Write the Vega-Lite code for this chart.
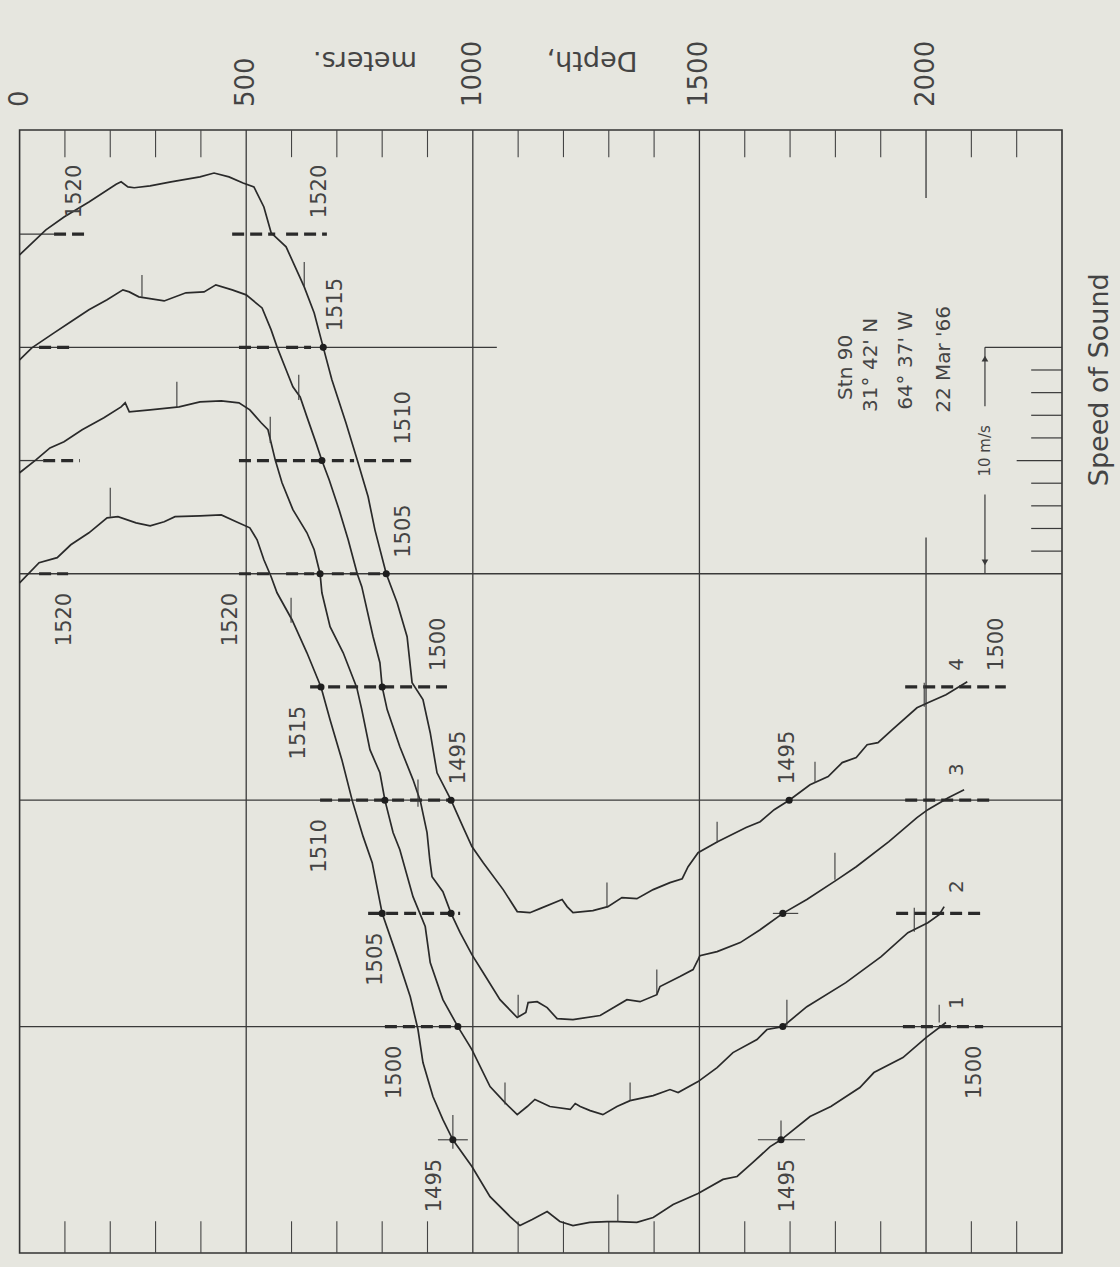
{
"$schema": "https://vega.github.io/schema/vega-lite/v6.json",
"width": 1042.4,
"height": 1123,
"autosize": {"type": "none"},
"padding": {"left": 19.6, "top": 130, "right": 58, "bottom": 14},
"background": "#e6e6df",
"config": {"view": {"stroke": "#333333", "strokeWidth": 1.6}, "font": "DejaVu Sans"},
"datasets": {
"profiles": [
{"c":4,"depth":0,"speed":1519.08},{"c":4,"depth":58,"speed":1520.19},{"c":4,"depth":98,"speed":1520.76},{"c":4,"depth":153,"speed":1521.42},{"c":4,"depth":213,"speed":1522.2},{"c":4,"depth":224,"speed":1522.31},{"c":4,"depth":239,"speed":1522.09},{"c":4,"depth":253,"speed":1522.05},{"c":4,"depth":288,"speed":1522.13},{"c":4,"depth":334,"speed":1522.31},{"c":4,"depth":398,"speed":1522.53},{"c":4,"depth":429,"speed":1522.7},{"c":4,"depth":462,"speed":1522.53},{"c":4,"depth":493,"speed":1522.26},{"c":4,"depth":517,"speed":1522.09},{"c":4,"depth":539,"speed":1521.2},{"c":4,"depth":555,"speed":1520.06},{"c":4,"depth":588,"speed":1519.44},{"c":4,"depth":628,"speed":1517.67},{"c":4,"depth":650,"speed":1516.52},{"c":4,"depth":670,"speed":1515.0},{"c":4,"depth":689,"speed":1513.57},{"c":4,"depth":720,"speed":1511.67},{"c":4,"depth":745,"speed":1510.03},{"c":4,"depth":769,"speed":1508.4},{"c":4,"depth":784,"speed":1506.94},{"c":4,"depth":809,"speed":1505.0},{"c":4,"depth":833,"speed":1503.72},{"c":4,"depth":855,"speed":1502.22},{"c":4,"depth":866,"speed":1500.19},{"c":4,"depth":890,"speed":1499.44},{"c":4,"depth":906,"speed":1497.98},{"c":4,"depth":921,"speed":1496.21},{"c":4,"depth":952,"speed":1495.0},{"c":4,"depth":978,"speed":1493.83},{"c":4,"depth":998,"speed":1492.95},{"c":4,"depth":1023,"speed":1492.24},{"c":4,"depth":1067,"speed":1491.05},{"c":4,"depth":1098,"speed":1490.08},{"c":4,"depth":1126,"speed":1490.03},{"c":4,"depth":1148,"speed":1490.21},{"c":4,"depth":1197,"speed":1490.61},{"c":4,"depth":1208,"speed":1490.3},{"c":4,"depth":1221,"speed":1490.03},{"c":4,"depth":1265,"speed":1490.12},{"c":4,"depth":1298,"speed":1490.3},{"c":4,"depth":1329,"speed":1490.7},{"c":4,"depth":1362,"speed":1490.65},{"c":4,"depth":1398,"speed":1491.05},{"c":4,"depth":1435,"speed":1491.36},{"c":4,"depth":1462,"speed":1491.53},{"c":4,"depth":1475,"speed":1492.06},{"c":4,"depth":1497,"speed":1492.68},{"c":4,"depth":1541,"speed":1493.17},{"c":4,"depth":1603,"speed":1493.79},{"c":4,"depth":1634,"speed":1494.05},{"c":4,"depth":1665,"speed":1494.58},{"c":4,"depth":1698,"speed":1495.0},{"c":4,"depth":1744,"speed":1495.68},{"c":4,"depth":1784,"speed":1496.04},{"c":4,"depth":1815,"speed":1496.66},{"c":4,"depth":1846,"speed":1496.88},{"c":4,"depth":1870,"speed":1497.45},{"c":4,"depth":1894,"speed":1497.54},{"c":4,"depth":1925,"speed":1498.11},{"c":4,"depth":1980,"speed":1499.08},{"c":4,"depth":2004,"speed":1499.3},{"c":4,"depth":2044,"speed":1499.66},{"c":4,"depth":2091,"speed":1500.23},
{"c":3,"depth":0,"speed":1519.45},{"c":3,"depth":27,"speed":1519.98},{"c":3,"depth":76,"speed":1520.64},{"c":3,"depth":113,"speed":1521.13},{"c":3,"depth":153,"speed":1521.66},{"c":3,"depth":193,"speed":1522.1},{"c":3,"depth":228,"speed":1522.54},{"c":3,"depth":242,"speed":1522.45},{"c":3,"depth":263,"speed":1522.23},{"c":3,"depth":319,"speed":1522.05},{"c":3,"depth":367,"speed":1522.41},{"c":3,"depth":407,"speed":1522.45},{"c":3,"depth":433,"speed":1522.76},{"c":3,"depth":469,"speed":1522.54},{"c":3,"depth":500,"speed":1522.32},{"c":3,"depth":535,"speed":1521.74},{"c":3,"depth":555,"speed":1520.77},{"c":3,"depth":568,"speed":1520.02},{"c":3,"depth":588,"speed":1519.01},{"c":3,"depth":603,"speed":1518.26},{"c":3,"depth":619,"speed":1517.81},{"c":3,"depth":634,"speed":1516.93},{"c":3,"depth":654,"speed":1515.78},{"c":3,"depth":667,"speed":1515.0},{"c":3,"depth":683,"speed":1514.15},{"c":3,"depth":705,"speed":1512.83},{"c":3,"depth":725,"speed":1511.5},{"c":3,"depth":745,"speed":1510.0},{"c":3,"depth":755,"speed":1509.43},{"c":3,"depth":780,"speed":1507.22},{"c":3,"depth":795,"speed":1506.07},{"c":3,"depth":800,"speed":1505.0},{"c":3,"depth":811,"speed":1504.0},{"c":3,"depth":839,"speed":1502.36},{"c":3,"depth":868,"speed":1500.91},{"c":3,"depth":884,"speed":1499.98},{"c":3,"depth":899,"speed":1498.57},{"c":3,"depth":905,"speed":1497.37},{"c":3,"depth":910,"speed":1496.62},{"c":3,"depth":934,"speed":1495.96},{"c":3,"depth":952,"speed":1495.0},{"c":3,"depth":972,"speed":1494.15},{"c":3,"depth":998,"speed":1493.18},{"c":3,"depth":1023,"speed":1492.38},{"c":3,"depth":1060,"speed":1491.19},{"c":3,"depth":1098,"speed":1490.4},{"c":3,"depth":1117,"speed":1490.62},{"c":3,"depth":1122,"speed":1491.06},{"c":3,"depth":1142,"speed":1491.1},{"c":3,"depth":1164,"speed":1490.84},{"c":3,"depth":1186,"speed":1490.35},{"c":3,"depth":1221,"speed":1490.31},{"c":3,"depth":1281,"speed":1490.49},{"c":3,"depth":1340,"speed":1491.19},{"c":3,"depth":1369,"speed":1491.1},{"c":3,"depth":1406,"speed":1491.41},{"c":3,"depth":1413,"speed":1491.77},{"c":3,"depth":1457,"speed":1492.21},{"c":3,"depth":1486,"speed":1492.52},{"c":3,"depth":1497,"speed":1492.96},{"c":3,"depth":1501,"speed":1493.13},{"c":3,"depth":1539,"speed":1493.31},{"c":3,"depth":1590,"speed":1493.71},{"c":3,"depth":1634,"speed":1494.28},{"c":3,"depth":1684,"speed":1495.0},{"c":3,"depth":1737,"speed":1495.61},{"c":3,"depth":1804,"speed":1496.49},{"c":3,"depth":1846,"speed":1497.06},{"c":3,"depth":1918,"speed":1498.17},{"c":3,"depth":1980,"speed":1499.23},{"c":3,"depth":2004,"speed":1499.58},{"c":3,"depth":2049,"speed":1500.11},{"c":3,"depth":2084,"speed":1500.46},
{"c":2,"depth":0,"speed":1519.46},{"c":2,"depth":36,"speed":1520.03},{"c":2,"depth":67,"speed":1520.56},{"c":2,"depth":98,"speed":1520.83},{"c":2,"depth":138,"speed":1521.36},{"c":2,"depth":186,"speed":1521.89},{"c":2,"depth":224,"speed":1522.37},{"c":2,"depth":233,"speed":1522.55},{"c":2,"depth":242,"speed":1522.15},{"c":2,"depth":288,"speed":1522.24},{"c":2,"depth":352,"speed":1522.37},{"c":2,"depth":398,"speed":1522.59},{"c":2,"depth":445,"speed":1522.64},{"c":2,"depth":484,"speed":1522.55},{"c":2,"depth":508,"speed":1522.24},{"c":2,"depth":533,"speed":1521.67},{"c":2,"depth":548,"speed":1521.36},{"c":2,"depth":564,"speed":1520.03},{"c":2,"depth":579,"speed":1519.02},{"c":2,"depth":603,"speed":1517.83},{"c":2,"depth":634,"speed":1516.81},{"c":2,"depth":650,"speed":1516.06},{"c":2,"depth":663,"speed":1515.0},{"c":2,"depth":667,"speed":1514.16},{"c":2,"depth":685,"speed":1512.66},{"c":2,"depth":714,"speed":1511.51},{"c":2,"depth":744,"speed":1509.97},{"c":2,"depth":755,"speed":1509.0},{"c":2,"depth":773,"speed":1507.23},{"c":2,"depth":795,"speed":1506.21},{"c":2,"depth":806,"speed":1505.0},{"c":2,"depth":824,"speed":1503.57},{"c":2,"depth":839,"speed":1502.81},{"c":2,"depth":868,"speed":1500.74},{"c":2,"depth":895,"speed":1499.42},{"c":2,"depth":906,"speed":1497.83},{"c":2,"depth":934,"speed":1496.19},{"c":2,"depth":967,"speed":1495.0},{"c":2,"depth":998,"speed":1493.98},{"c":2,"depth":1038,"speed":1492.35},{"c":2,"depth":1071,"speed":1491.64},{"c":2,"depth":1098,"speed":1491.11},{"c":2,"depth":1120,"speed":1491.47},{"c":2,"depth":1137,"speed":1491.78},{"c":2,"depth":1170,"speed":1491.47},{"c":2,"depth":1215,"speed":1491.34},{"c":2,"depth":1226,"speed":1491.6},{"c":2,"depth":1237,"speed":1491.47},{"c":2,"depth":1259,"speed":1491.29},{"c":2,"depth":1287,"speed":1491.11},{"c":2,"depth":1318,"speed":1491.47},{"c":2,"depth":1347,"speed":1491.73},{"c":2,"depth":1398,"speed":1491.95},{"c":2,"depth":1435,"speed":1492.22},{"c":2,"depth":1453,"speed":1492.09},{"c":2,"depth":1497,"speed":1492.57},{"c":2,"depth":1539,"speed":1493.19},{"c":2,"depth":1574,"speed":1493.85},{"c":2,"depth":1627,"speed":1494.43},{"c":2,"depth":1649,"speed":1494.87},{"c":2,"depth":1684,"speed":1495.0},{"c":2,"depth":1737,"speed":1495.88},{"c":2,"depth":1823,"speed":1496.94},{"c":2,"depth":1901,"speed":1498.09},{"c":2,"depth":1960,"speed":1499.15},{"c":2,"depth":2004,"speed":1499.59},{"c":2,"depth":2029,"speed":1499.94},{"c":2,"depth":2040,"speed":1500.3},
{"c":1,"depth":0,"speed":1519.6},{"c":1,"depth":43,"speed":1520.49},{"c":1,"depth":83,"speed":1520.71},{"c":1,"depth":113,"speed":1521.28},{"c":1,"depth":153,"speed":1521.81},{"c":1,"depth":193,"speed":1522.47},{"c":1,"depth":217,"speed":1522.52},{"c":1,"depth":257,"speed":1522.25},{"c":1,"depth":288,"speed":1522.12},{"c":1,"depth":319,"speed":1522.3},{"c":1,"depth":343,"speed":1522.52},{"c":1,"depth":398,"speed":1522.56},{"c":1,"depth":445,"speed":1522.6},{"c":1,"depth":478,"speed":1522.3},{"c":1,"depth":508,"speed":1522.03},{"c":1,"depth":524,"speed":1521.5},{"c":1,"depth":539,"speed":1520.62},{"c":1,"depth":555,"speed":1519.87},{"c":1,"depth":568,"speed":1519.16},{"c":1,"depth":601,"speed":1517.97},{"c":1,"depth":634,"speed":1516.51},{"c":1,"depth":665,"speed":1515.0},{"c":1,"depth":685,"speed":1513.55},{"c":1,"depth":711,"speed":1511.79},{"c":1,"depth":734,"speed":1509.98},{"c":1,"depth":758,"speed":1508.39},{"c":1,"depth":778,"speed":1507.24},{"c":1,"depth":800,"speed":1505.0},{"c":1,"depth":833,"speed":1503.09},{"c":1,"depth":862,"speed":1501.32},{"c":1,"depth":879,"speed":1499.87},{"c":1,"depth":890,"speed":1498.41},{"c":1,"depth":912,"speed":1496.91},{"c":1,"depth":934,"speed":1495.89},{"c":1,"depth":956,"speed":1495.0},{"c":1,"depth":987,"speed":1494.13},{"c":1,"depth":998,"speed":1493.82},{"c":1,"depth":1038,"speed":1492.49},{"c":1,"depth":1082,"speed":1491.61},{"c":1,"depth":1104,"speed":1491.21},{"c":1,"depth":1131,"speed":1491.48},{"c":1,"depth":1164,"speed":1491.83},{"c":1,"depth":1192,"speed":1491.39},{"c":1,"depth":1221,"speed":1491.21},{"c":1,"depth":1258,"speed":1491.35},{"c":1,"depth":1296,"speed":1491.39},{"c":1,"depth":1320,"speed":1491.39},{"c":1,"depth":1362,"speed":1491.35},{"c":1,"depth":1398,"speed":1491.57},{"c":1,"depth":1442,"speed":1492.14},{"c":1,"depth":1497,"speed":1492.63},{"c":1,"depth":1552,"speed":1493.25},{"c":1,"depth":1583,"speed":1493.38},{"c":1,"depth":1618,"speed":1494.0},{"c":1,"depth":1656,"speed":1494.7},{"c":1,"depth":1680,"speed":1495.0},{"c":1,"depth":1744,"speed":1496.03},{"c":1,"depth":1790,"speed":1496.47},{"c":1,"depth":1854,"speed":1497.31},{"c":1,"depth":1885,"speed":1497.97},{"c":1,"depth":1949,"speed":1498.63},{"c":1,"depth":2000,"speed":1499.51},{"c":1,"depth":2044,"speed":1500.18}
],
"dots": [
{"c":4,"depth":670,"speed":1515},{"c":4,"depth":809,"speed":1505},{"c":4,"depth":952,"speed":1495},{"c":4,"depth":1698,"speed":1495},
{"c":3,"depth":667,"speed":1515},{"c":3,"depth":800,"speed":1505},{"c":3,"depth":952,"speed":1495},{"c":3,"depth":1684,"speed":1495},
{"c":2,"depth":663,"speed":1515},{"c":2,"depth":806,"speed":1505},{"c":2,"depth":967,"speed":1495},{"c":2,"depth":1684,"speed":1495},
{"c":1,"depth":665,"speed":1515},{"c":1,"depth":800,"speed":1505},{"c":1,"depth":956,"speed":1495},{"c":1,"depth":1680,"speed":1495}
],
"curveTicks": [
{"c":4,"depth":628,"s1":1517.67,"s2":1518.77},{"c":4,"depth":1296,"s1":1490.25,"s2":1491.36},{"c":4,"depth":1539,"s1":1493.12,"s2":1494.05},{"c":4,"depth":1755,"s1":1495.77,"s2":1496.7},{"c":4,"depth":1996,"s1":1499.13,"s2":1500.19},
{"c":3,"depth":270,"s1":1522.23,"s2":1523.2},{"c":3,"depth":616,"s1":1517.68,"s2":1518.79},{"c":3,"depth":879,"s1":1499.71,"s2":1500.91},{"c":3,"depth":1100,"s1":1490.44,"s2":1491.41},{"c":3,"depth":1406,"s1":1491.41,"s2":1492.52},{"c":3,"depth":1799,"s1":1496.49,"s2":1497.68},
{"c":2,"depth":347,"s1":1522.37,"s2":1523.48},{"c":2,"depth":553,"s1":1520.78,"s2":1521.93},{"c":2,"depth":1071,"s1":1491.56,"s2":1492.53},{"c":2,"depth":1347,"s1":1491.73,"s2":1492.53},{"c":2,"depth":1693,"s1":1495.0,"s2":1496.19},{"c":2,"depth":1974,"s1":1499.19,"s2":1500.25},
{"c":1,"depth":200,"s1":1522.52,"s2":1523.8},{"c":1,"depth":599,"s1":1517.84,"s2":1518.94},{"c":1,"depth":956,"s1":1494.6,"s2":1496.1},{"c":1,"depth":1320,"s1":1491.39,"s2":1492.58},{"c":1,"depth":1680,"s1":1495.0,"s2":1495.85},{"c":1,"depth":2029,"s1":1500.18,"s2":1500.97}
],
"crossH": [
{"c":1,"d1":923,"d2":989,"speed":1495},{"c":1,"d1":1629,"d2":1733,"speed":1495},{"c":3,"d1":1662,"d2":1718,"speed":1495}
],
"labels": [
{"c":4,"side":"above","depth":122,"speed":1520,"label":"1520"},{"c":4,"side":"above","depth":663,"speed":1520,"label":"1520"},{"c":4,"side":"above","depth":698,"speed":1515,"label":"1515"},{"c":4,"side":"above","depth":848,"speed":1510,"label":"1510"},{"c":4,"side":"above","depth":848,"speed":1505,"label":"1505"},{"c":4,"side":"above","depth":925,"speed":1500,"label":"1500"},{"c":4,"side":"above","depth":970,"speed":1495,"label":"1495"},{"c":4,"side":"above","depth":1696,"speed":1495,"label":"1495"},{"c":4,"side":"above","depth":2157,"speed":1500,"label":"1500"},
{"c":1,"side":"below","depth":100,"speed":1520,"label":"1520"},{"c":1,"side":"below","depth":466,"speed":1520,"label":"1520"},{"c":1,"side":"below","depth":616,"speed":1515,"label":"1515"},{"c":1,"side":"below","depth":663,"speed":1510,"label":"1510"},{"c":1,"side":"below","depth":786,"speed":1505,"label":"1505"},{"c":1,"side":"below","depth":828,"speed":1500,"label":"1500"},{"c":1,"side":"below","depth":917,"speed":1495,"label":"1495"},{"c":1,"side":"below","depth":1696,"speed":1495,"label":"1495"},{"c":1,"side":"below","depth":2108,"speed":1500,"label":"1500"}
],
"names": [
{"c":4,"depth":2068,"speed":1501.0,"label":"4"},{"c":3,"depth":2068,"speed":1501.35,"label":"3"},{"c":2,"depth":2068,"speed":1501.18,"label":"2"},{"c":1,"depth":2068,"speed":1501.06,"label":"1"}
],
"gridRules": [
{"d1":500,"d2":500,"s1":1490,"s2":1539.6},{"d1":1000,"d2":1000,"s1":1490,"s2":1539.6},{"d1":1500,"d2":1500,"s1":1490,"s2":1539.6},{"d1":2000,"d2":2000,"s1":1536.6,"s2":1539.6},{"d1":2000,"d2":2000,"s1":1490,"s2":1521.6},
{"d1":0,"d2":2300,"s1":1500,"s2":1500},{"d1":0,"d2":2300,"s1":1510,"s2":1510},{"d1":0,"d2":2300,"s1":1520,"s2":1520},{"d1":0,"d2":1053,"s1":1530,"s2":1530},{"d1":0,"d2":76,"s1":1535,"s2":1535},{"d1":0,"d2":52,"s1":1525,"s2":1525}
],
"axisTicks": [
{"depth":100,"s1":1538.4,"s2":1539.6},{"depth":200,"s1":1538.4,"s2":1539.6},{"depth":300,"s1":1538.4,"s2":1539.6},{"depth":400,"s1":1538.4,"s2":1539.6},{"depth":600,"s1":1538.4,"s2":1539.6},{"depth":700,"s1":1538.4,"s2":1539.6},{"depth":800,"s1":1538.4,"s2":1539.6},{"depth":900,"s1":1538.4,"s2":1539.6},{"depth":1100,"s1":1538.4,"s2":1539.6},{"depth":1200,"s1":1538.4,"s2":1539.6},{"depth":1300,"s1":1538.4,"s2":1539.6},{"depth":1400,"s1":1538.4,"s2":1539.6},{"depth":1600,"s1":1538.4,"s2":1539.6},{"depth":1700,"s1":1538.4,"s2":1539.6},{"depth":1800,"s1":1538.4,"s2":1539.6},{"depth":1900,"s1":1538.4,"s2":1539.6},{"depth":2100,"s1":1538.4,"s2":1539.6},{"depth":2200,"s1":1538.4,"s2":1539.6},
{"depth":100,"s1":1490,"s2":1491.4},{"depth":200,"s1":1490,"s2":1491.4},{"depth":300,"s1":1490,"s2":1491.4},{"depth":400,"s1":1490,"s2":1491.4},{"depth":600,"s1":1490,"s2":1491.4},{"depth":700,"s1":1490,"s2":1491.4},{"depth":800,"s1":1490,"s2":1491.4},{"depth":900,"s1":1490,"s2":1491.4},{"depth":1100,"s1":1490,"s2":1491.4},{"depth":1200,"s1":1490,"s2":1491.4},{"depth":1300,"s1":1490,"s2":1491.4},{"depth":1400,"s1":1490,"s2":1491.4},{"depth":1600,"s1":1490,"s2":1491.4},{"depth":1700,"s1":1490,"s2":1491.4},{"depth":1800,"s1":1490,"s2":1491.4},{"depth":1900,"s1":1490,"s2":1491.4},{"depth":2100,"s1":1490,"s2":1491.4},{"depth":2200,"s1":1490,"s2":1491.4}
],
"dashes": [
{"d1":76,"d2":153,"level":1535},{"d1":469,"d2":564,"level":1535},{"d1":588,"d2":678,"level":1535},
{"d1":43,"d2":113,"level":1530},{"d1":484,"d2":555,"level":1530},{"d1":588,"d2":643,"level":1530},
{"d1":52,"d2":133,"level":1525},{"d1":484,"d2":665,"level":1525},{"d1":689,"d2":738,"level":1525},{"d1":760,"d2":864,"level":1525},
{"d1":43,"d2":107,"level":1520},{"d1":484,"d2":555,"level":1520},{"d1":588,"d2":650,"level":1520},{"d1":689,"d2":745,"level":1520},{"d1":769,"d2":809,"level":1520},
{"d1":641,"d2":943,"level":1515},{"d1":663,"d2":954,"level":1510},{"d1":769,"d2":972,"level":1505},{"d1":806,"d2":967,"level":1500},
{"d1":1954,"d2":2176,"level":1515},{"d1":1954,"d2":2146,"level":1510},{"d1":1934,"d2":2121,"level":1505},{"d1":1949,"d2":2126,"level":1500}
],
"scaleRules": [
{"d1":2130,"d2":2130,"s1":1527.4,"s2":1530},{"d1":2130,"d2":2130,"s1":1520,"s2":1523.5},{"d1":2130,"d2":2300,"s1":1530,"s2":1530},
{"d1":2232,"d2":2300,"s1":1521,"s2":1521},{"d1":2232,"d2":2300,"s1":1522,"s2":1522},{"d1":2232,"d2":2300,"s1":1523,"s2":1523},{"d1":2232,"d2":2300,"s1":1524,"s2":1524},{"d1":2200,"d2":2300,"s1":1525,"s2":1525},{"d1":2232,"d2":2300,"s1":1526,"s2":1526},{"d1":2232,"d2":2300,"s1":1527,"s2":1527},{"d1":2232,"d2":2300,"s1":1528,"s2":1528},{"d1":2232,"d2":2300,"s1":1529,"s2":1529}
],
"arrows": [
{"depth":2130,"level":1529.5,"dir":"up"},{"depth":2130,"level":1520.5,"dir":"down"}
],
"notes": [
{"depth":1823,"level":1527.68,"text":"Stn 90"},{"depth":1879,"level":1527.15,"text":"31° 42' N"},{"depth":1956,"level":1527.24,"text":"64° 37' W"},{"depth":2040,"level":1527.11,"text":"22 Mar '66"}
],
"scaleText": [
{"depth":2130,"level":1525.43,"text":"10 m/s"}
],
"depthLabels": [
{"depth":0,"level":1539.6,"label":"0"},{"depth":500,"level":1539.6,"label":"500"},{"depth":1000,"level":1539.6,"label":"1000"},{"depth":1500,"level":1539.6,"label":"1500"},{"depth":2000,"level":1539.6,"label":"2000"}
],
"depthTitle": [
{"depth":1263,"level":1539.6,"text":"Depth,"},{"depth":762,"level":1539.6,"text":"meters."}
],
"speedTitle": [
{"depth":2300,"level":1528.57,"text":"Speed of Sound"}
]
},
"layer": [
{
"layer": [
{"data": {"name": "gridRules"}, "mark": {"type": "rule", "stroke": "#3a3a3a", "strokeWidth": 1.3},
 "encoding": {
  "x": {"field": "d1", "type": "quantitative", "scale": {"domain": [0, 2300], "nice": false, "zero": false}, "axis": null},
  "x2": {"field": "d2"},
  "y": {"field": "s1", "type": "quantitative", "scale": {"domain": [1490, 1539.6], "nice": false, "zero": false}, "axis": null},
  "y2": {"field": "s2"}}},
{"data": {"name": "axisTicks"}, "mark": {"type": "rule", "stroke": "#444444", "strokeWidth": 1.1},
 "encoding": {"x": {"field": "depth", "type": "quantitative", "axis": null}, "y": {"field": "s1", "type": "quantitative", "axis": null}, "y2": {"field": "s2"}}},
{"data": {"name": "dashes"}, "mark": {"type": "rule", "stroke": "#2a2a2a", "strokeWidth": 3.2, "strokeDash": [12, 6]},
 "encoding": {"x": {"field": "d1", "type": "quantitative", "axis": null}, "x2": {"field": "d2"}, "y": {"field": "level", "type": "quantitative", "axis": null}}},
{"data": {"name": "scaleRules"}, "mark": {"type": "rule", "stroke": "#3a3a3a", "strokeWidth": 1.2},
 "encoding": {"x": {"field": "d1", "type": "quantitative", "axis": null}, "x2": {"field": "d2"}, "y": {"field": "s1", "type": "quantitative", "axis": null}, "y2": {"field": "s2"}}},
{"data": {"name": "arrows"}, "mark": {"type": "point", "filled": true, "size": 45, "color": "#3a3a3a", "opacity": 1},
 "encoding": {"x": {"field": "depth", "type": "quantitative", "axis": null}, "y": {"field": "level", "type": "quantitative", "axis": null},
  "shape": {"field": "dir", "type": "nominal", "scale": {"domain": ["up", "down"], "range": ["triangle-up", "triangle-down"]}, "legend": null}}},
{"data": {"name": "notes"}, "mark": {"type": "text", "angle": 270, "align": "left", "baseline": "middle", "fontSize": 20, "color": "#444444"},
 "encoding": {"x": {"field": "depth", "type": "quantitative", "axis": null}, "y": {"field": "level", "type": "quantitative", "axis": null}, "text": {"field": "text"}}},
{"data": {"name": "scaleText"}, "mark": {"type": "text", "angle": 270, "align": "center", "baseline": "middle", "fontSize": 15, "color": "#444444"},
 "encoding": {"x": {"field": "depth", "type": "quantitative", "axis": null}, "y": {"field": "level", "type": "quantitative", "axis": null}, "text": {"field": "text"}}},
{"data": {"name": "depthLabels"}, "mark": {"type": "text", "angle": 270, "align": "left", "baseline": "middle", "dx": 23, "fontSize": 26, "color": "#444444"},
 "encoding": {"x": {"field": "depth", "type": "quantitative", "axis": null}, "y": {"field": "level", "type": "quantitative", "axis": null}, "text": {"field": "label"}}},
{"data": {"name": "depthTitle"}, "mark": {"type": "text", "angle": 180, "align": "center", "baseline": "middle", "dy": 70, "fontSize": 27, "color": "#444444"},
 "encoding": {"x": {"field": "depth", "type": "quantitative", "axis": null}, "y": {"field": "level", "type": "quantitative", "axis": null}, "text": {"field": "text"}}},
{"data": {"name": "speedTitle"}, "mark": {"type": "text", "angle": 270, "align": "center", "baseline": "middle", "dy": 38, "fontSize": 27, "color": "#444444"},
 "encoding": {"x": {"field": "depth", "type": "quantitative", "axis": null}, "y": {"field": "level", "type": "quantitative", "axis": null}, "text": {"field": "text"}}}
]
},
{
"layer": [
{"data": {"name": "profiles"}, "transform": [{"filter": "datum.c == 1"}], "mark": {"type": "line", "stroke": "#2a2a2a", "strokeWidth": 1.7},
 "encoding": {"x": {"field": "depth", "type": "quantitative", "axis": null}, "y": {"field": "speed", "type": "quantitative", "scale": {"domain": [1490, 1539.6], "nice": false, "zero": false}, "axis": null}}},
{"data": {"name": "curveTicks"}, "transform": [{"filter": "datum.c == 1"}], "mark": {"type": "rule", "stroke": "#3a3a3a", "strokeWidth": 1.1},
 "encoding": {"x": {"field": "depth", "type": "quantitative", "axis": null}, "y": {"field": "s1", "type": "quantitative", "axis": null}, "y2": {"field": "s2"}}},
{"data": {"name": "crossH"}, "transform": [{"filter": "datum.c == 1"}], "mark": {"type": "rule", "stroke": "#3a3a3a", "strokeWidth": 1.1},
 "encoding": {"x": {"field": "d1", "type": "quantitative", "axis": null}, "x2": {"field": "d2"}, "y": {"field": "speed", "type": "quantitative", "axis": null}}},
{"data": {"name": "dots"}, "transform": [{"filter": "datum.c == 1"}], "mark": {"type": "circle", "size": 50, "color": "#1e1e1e", "opacity": 1},
 "encoding": {"x": {"field": "depth", "type": "quantitative", "axis": null}, "y": {"field": "speed", "type": "quantitative", "axis": null}}},
{"data": {"name": "labels"}, "transform": [{"filter": "datum.c == 1"}], "mark": {"type": "text", "angle": 270, "align": "right", "baseline": "middle", "dx": -19, "fontSize": 21, "color": "#444444"},
 "encoding": {"x": {"field": "depth", "type": "quantitative", "axis": null}, "y": {"field": "speed", "type": "quantitative", "axis": null}, "text": {"field": "label"}}},
{"data": {"name": "names"}, "transform": [{"filter": "datum.c == 1"}], "mark": {"type": "text", "angle": 270, "align": "center", "baseline": "middle", "fontSize": 20, "color": "#444444"},
 "encoding": {"x": {"field": "depth", "type": "quantitative", "axis": null}, "y": {"field": "speed", "type": "quantitative", "axis": null}, "text": {"field": "label"}}}
]
},
{
"layer": [
{"data": {"name": "profiles"}, "transform": [{"filter": "datum.c == 2"}], "mark": {"type": "line", "stroke": "#2a2a2a", "strokeWidth": 1.7},
 "encoding": {"x": {"field": "depth", "type": "quantitative", "axis": null}, "y": {"field": "speed", "type": "quantitative", "scale": {"domain": [1485, 1534.6], "nice": false, "zero": false}, "axis": null}}},
{"data": {"name": "curveTicks"}, "transform": [{"filter": "datum.c == 2"}], "mark": {"type": "rule", "stroke": "#3a3a3a", "strokeWidth": 1.1},
 "encoding": {"x": {"field": "depth", "type": "quantitative", "axis": null}, "y": {"field": "s1", "type": "quantitative", "axis": null}, "y2": {"field": "s2"}}},
{"data": {"name": "dots"}, "transform": [{"filter": "datum.c == 2"}], "mark": {"type": "circle", "size": 50, "color": "#1e1e1e", "opacity": 1},
 "encoding": {"x": {"field": "depth", "type": "quantitative", "axis": null}, "y": {"field": "speed", "type": "quantitative", "axis": null}}},
{"data": {"name": "names"}, "transform": [{"filter": "datum.c == 2"}], "mark": {"type": "text", "angle": 270, "align": "center", "baseline": "middle", "fontSize": 20, "color": "#444444"},
 "encoding": {"x": {"field": "depth", "type": "quantitative", "axis": null}, "y": {"field": "speed", "type": "quantitative", "axis": null}, "text": {"field": "label"}}}
]
},
{
"layer": [
{"data": {"name": "profiles"}, "transform": [{"filter": "datum.c == 3"}], "mark": {"type": "line", "stroke": "#2a2a2a", "strokeWidth": 1.7},
 "encoding": {"x": {"field": "depth", "type": "quantitative", "axis": null}, "y": {"field": "speed", "type": "quantitative", "scale": {"domain": [1480, 1529.6], "nice": false, "zero": false}, "axis": null}}},
{"data": {"name": "curveTicks"}, "transform": [{"filter": "datum.c == 3"}], "mark": {"type": "rule", "stroke": "#3a3a3a", "strokeWidth": 1.1},
 "encoding": {"x": {"field": "depth", "type": "quantitative", "axis": null}, "y": {"field": "s1", "type": "quantitative", "axis": null}, "y2": {"field": "s2"}}},
{"data": {"name": "crossH"}, "transform": [{"filter": "datum.c == 3"}], "mark": {"type": "rule", "stroke": "#3a3a3a", "strokeWidth": 1.1},
 "encoding": {"x": {"field": "d1", "type": "quantitative", "axis": null}, "x2": {"field": "d2"}, "y": {"field": "speed", "type": "quantitative", "axis": null}}},
{"data": {"name": "dots"}, "transform": [{"filter": "datum.c == 3"}], "mark": {"type": "circle", "size": 50, "color": "#1e1e1e", "opacity": 1},
 "encoding": {"x": {"field": "depth", "type": "quantitative", "axis": null}, "y": {"field": "speed", "type": "quantitative", "axis": null}}},
{"data": {"name": "names"}, "transform": [{"filter": "datum.c == 3"}], "mark": {"type": "text", "angle": 270, "align": "center", "baseline": "middle", "fontSize": 20, "color": "#444444"},
 "encoding": {"x": {"field": "depth", "type": "quantitative", "axis": null}, "y": {"field": "speed", "type": "quantitative", "axis": null}, "text": {"field": "label"}}}
]
},
{
"layer": [
{"data": {"name": "profiles"}, "transform": [{"filter": "datum.c == 4"}], "mark": {"type": "line", "stroke": "#2a2a2a", "strokeWidth": 1.7},
 "encoding": {"x": {"field": "depth", "type": "quantitative", "axis": null}, "y": {"field": "speed", "type": "quantitative", "scale": {"domain": [1475, 1524.6], "nice": false, "zero": false}, "axis": null}}},
{"data": {"name": "curveTicks"}, "transform": [{"filter": "datum.c == 4"}], "mark": {"type": "rule", "stroke": "#3a3a3a", "strokeWidth": 1.1},
 "encoding": {"x": {"field": "depth", "type": "quantitative", "axis": null}, "y": {"field": "s1", "type": "quantitative", "axis": null}, "y2": {"field": "s2"}}},
{"data": {"name": "dots"}, "transform": [{"filter": "datum.c == 4"}], "mark": {"type": "circle", "size": 50, "color": "#1e1e1e", "opacity": 1},
 "encoding": {"x": {"field": "depth", "type": "quantitative", "axis": null}, "y": {"field": "speed", "type": "quantitative", "axis": null}}},
{"data": {"name": "labels"}, "transform": [{"filter": "datum.c == 4"}], "mark": {"type": "text", "angle": 270, "align": "left", "baseline": "middle", "dx": 16, "fontSize": 21, "color": "#444444"},
 "encoding": {"x": {"field": "depth", "type": "quantitative", "axis": null}, "y": {"field": "speed", "type": "quantitative", "axis": null}, "text": {"field": "label"}}},
{"data": {"name": "names"}, "transform": [{"filter": "datum.c == 4"}], "mark": {"type": "text", "angle": 270, "align": "center", "baseline": "middle", "fontSize": 20, "color": "#444444"},
 "encoding": {"x": {"field": "depth", "type": "quantitative", "axis": null}, "y": {"field": "speed", "type": "quantitative", "axis": null}, "text": {"field": "label"}}}
]
}
],
"resolve": {"scale": {"y": "independent"}}
}
